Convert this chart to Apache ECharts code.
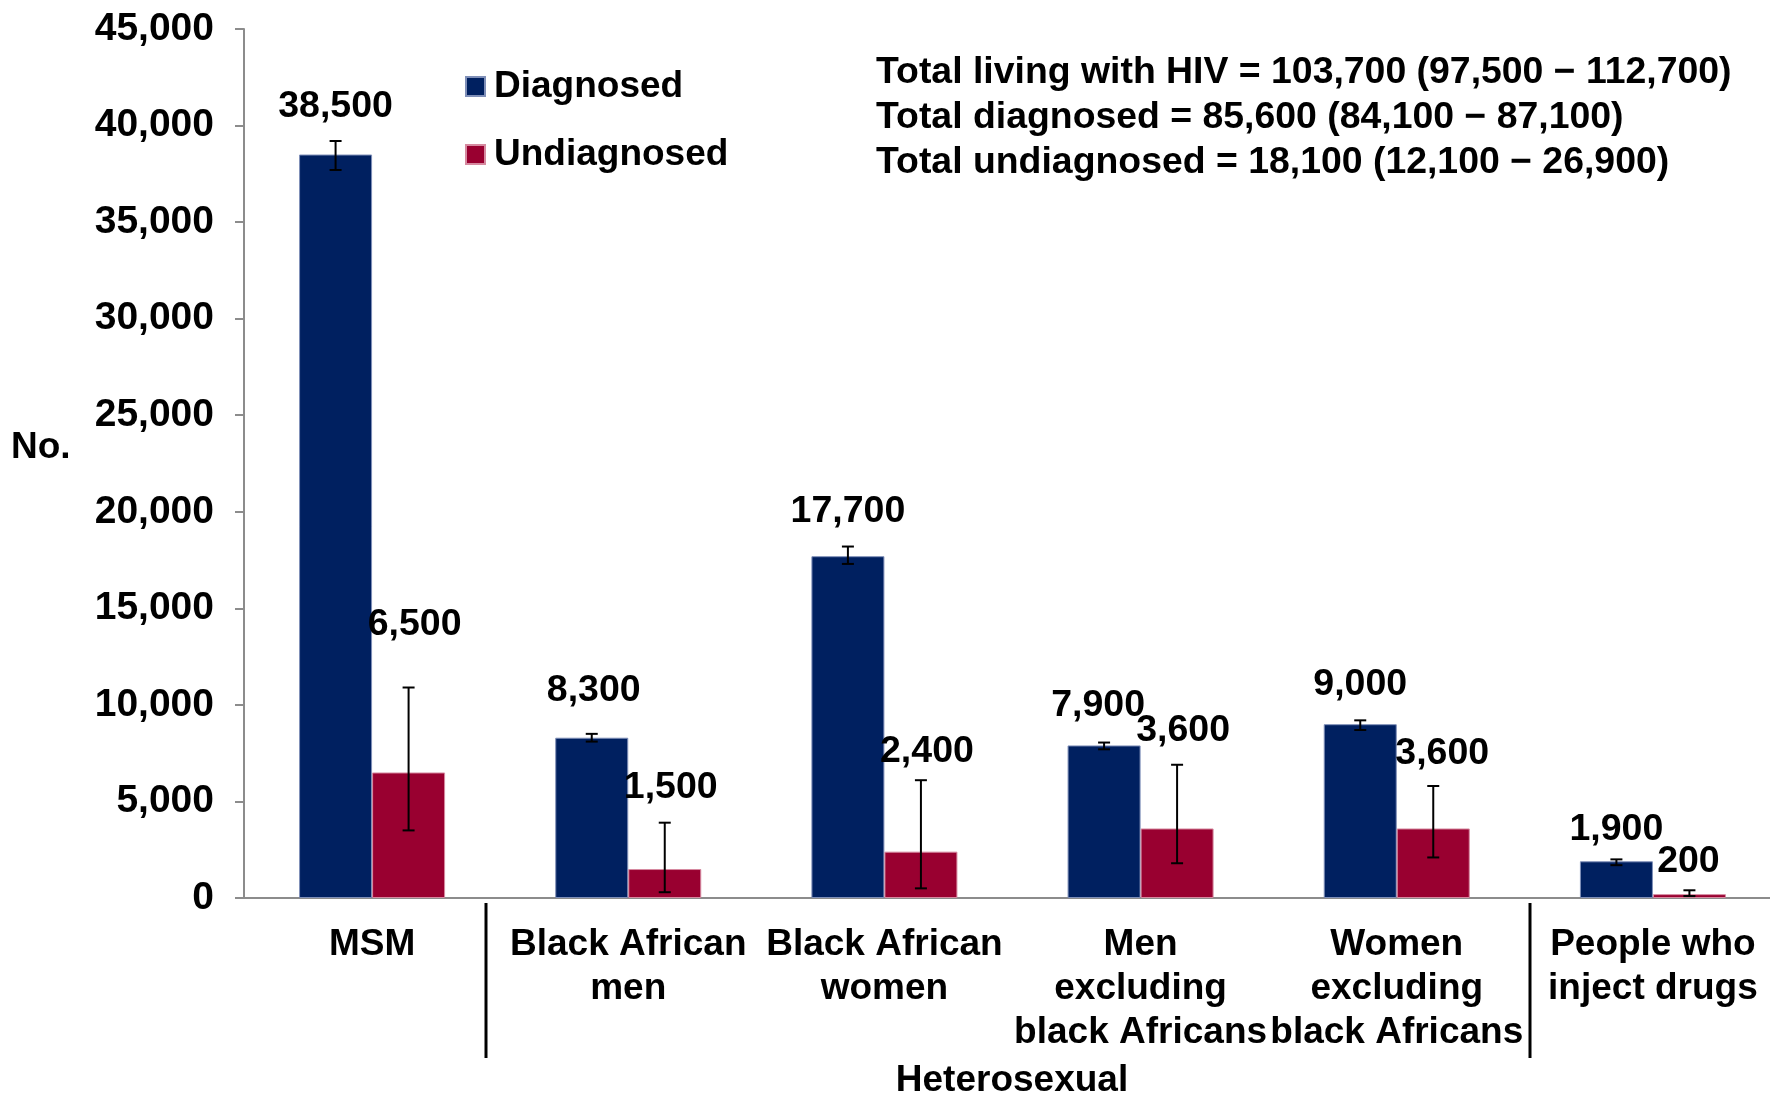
<!DOCTYPE html>
<html>
<head>
<meta charset="utf-8">
<title>People living with HIV</title>
<script src="https://cdn.jsdelivr.net/npm/echarts@6/dist/echarts.min.js"></script>
<style>
  html, body { margin: 0; padding: 0; background: #fff; }
  #chart { width: 1770px; height: 1094px; }
</style>
</head>
<body>
<div id="chart"></div>
<script>
// data
var categories = [
  'MSM',
  'Black African\nmen',
  'Black African\nwomen',
  'Men\nexcluding\nblack Africans',
  'Women\nexcluding\nblack Africans',
  'People who\ninject drugs'
];
var diagnosed = [38500, 8300, 17700, 7900, 9000, 1900];
var undiagnosed = [6500, 1500, 2400, 3600, 3600, 200];
var diagnosedLow = [37700, 8100, 17300, 7700, 8700, 1700];
var diagnosedHigh = [39200, 8500, 18200, 8050, 9200, 2000];
var undiagnosedLow = [3500, 300, 500, 1800, 2100, 100];
var undiagnosedHigh = [10900, 3900, 6100, 6900, 5800, 400];
var yTicks = [0, 45000, 5000]; // min, max, step
var totalsText = [
  'Total living with HIV = 103,700 (97,500 \u2212 112,700)',
  'Total diagnosed = 85,600 (84,100 \u2212 87,100)',
  'Total undiagnosed = 18,100 (12,100 \u2212 26,900)'
];

// label nudges [dx, dy] from the top of the error bar (layout only)
var labelShift = [
  [[0, -34], [2, -43], [0, -35], [-6, -37], [0, -36], [0, -30]],
  [[6, -63], [6, -35], [6, -29], [6, -34], [9, -32], [-1, -29]]
];

var FONT = "'Liberation Sans', Arial, sans-serif";
var GAP = 0.43;
var fmt = function (v) { return Number(v).toLocaleString('en-US'); };

var errData = [];
diagnosed.forEach(function (v, i) {
  errData.push([i, diagnosedLow[i], diagnosedHigh[i], 0, v]);
});
undiagnosed.forEach(function (v, i) {
  errData.push([i, undiagnosedLow[i], undiagnosedHigh[i], 1, v]);
});

function renderError(params, api) {
  var idx = api.value(0);
  var low = api.value(1);
  var high = api.value(2);
  var s = api.value(3);
  var val = api.value(4);
  var band = api.size([1, 0])[0];
  var barW = band * (1 - GAP) / 2;
  var cx = api.coord([idx, 0])[0] + (s === 0 ? -barW / 2 : barW / 2);
  var top = api.coord([idx, high])[1];
  var bot = api.coord([idx, low])[1];
  var cap = 6;
  var st = { stroke: '#000', lineWidth: 2 };
  var sh = labelShift[s][idx];
  return {
    type: 'group',
    children: [
      { type: 'line', shape: { x1: cx, y1: top, x2: cx, y2: bot }, style: st },
      { type: 'line', shape: { x1: cx - cap, y1: top, x2: cx + cap, y2: top }, style: st },
      { type: 'line', shape: { x1: cx - cap, y1: bot, x2: cx + cap, y2: bot }, style: st },
      {
        type: 'text',
        x: cx + sh[0],
        y: top + sh[1],
        style: {
          text: fmt(val),
          fill: '#000',
          font: 'bold 37.5px ' + FONT,
          align: 'center',
          verticalAlign: 'middle'
        }
      }
    ]
  };
}

var myChart = echarts.init(document.getElementById('chart'));

var option = {
  backgroundColor: '#fff',
  animation: false,
  color: ['#002060', '#990030'],
  grid: {
    left: 244,
    top: 29,
    width: 1537,
    height: 869,
    containLabel: false,
    outerBoundsMode: 'none'
  },
  legend: {
    orient: 'vertical',
    left: 460,
    top: 63,
    itemWidth: 19,
    itemHeight: 19,
    itemGap: 31,
    icon: 'rect',
    data: ['Diagnosed', 'Undiagnosed'],
    textStyle: {
      fontFamily: FONT,
      fontWeight: 'bold',
      fontSize: 37,
      color: '#000',
      padding: [0, 0, 0, 4]
    }
  },
  xAxis: {
    type: 'category',
    data: categories,
    axisLine: { lineStyle: { color: '#8c8c8c', width: 2 } },
    axisTick: { length: 10, lineStyle: { color: '#8c8c8c', width: 2 } },
    axisLabel: {
      interval: 0,
      margin: 25,
      fontFamily: FONT,
      fontWeight: 'bold',
      fontSize: 37,
      lineHeight: 44,
      color: '#000'
    }
  },
  yAxis: {
    type: 'value',
    min: yTicks[0],
    max: yTicks[1],
    interval: yTicks[2],
    axisLine: { show: true, lineStyle: { color: '#8c8c8c', width: 2 } },
    axisTick: { show: true, length: 9, lineStyle: { color: '#8c8c8c', width: 2 } },
    splitLine: { show: false },
    axisLabel: {
      margin: 30,
      formatter: fmt,
      fontFamily: FONT,
      fontWeight: 'bold',
      fontSize: 39,
      color: '#000'
    }
  },
  series: [
    {
      name: 'Diagnosed',
      type: 'bar',
      data: diagnosed,
      barGap: '0%',
      barCategoryGap: (GAP * 100) + '%',
      itemStyle: { borderColor: '#7f8fb8', borderWidth: 1 }
    },
    {
      name: 'Undiagnosed',
      type: 'bar',
      data: undiagnosed,
      barGap: '0%',
      barCategoryGap: (GAP * 100) + '%',
      itemStyle: { borderColor: '#d68aa0', borderWidth: 1 }
    },
    {
      name: 'range',
      type: 'custom',
      renderItem: renderError,
      data: errData,
      encode: { x: 0, y: [1, 2] },
      z: 10,
      silent: true
    }
  ],
  graphic: [
    {
      type: 'text',
      left: 876,
      top: 50,
      style: {
        text: totalsText.join('\n'),
        font: 'bold 37.4px ' + FONT,
        lineHeight: 45,
        fill: '#000'
      }
    },
    {
      type: 'text',
      left: 11,
      top: 429,
      style: { text: 'No.', font: 'bold 37px ' + FONT, fill: '#000' }
    },
    {
      type: 'text',
      x: 1012,
      y: 1081,
      style: {
        text: 'Heterosexual',
        font: 'bold 37px ' + FONT,
        fill: '#000',
        align: 'center',
        verticalAlign: 'middle'
      }
    },
    {
      type: 'line',
      shape: { x1: 486, y1: 903, x2: 486, y2: 1058 },
      style: { stroke: '#000', lineWidth: 3 }
    },
    {
      type: 'line',
      shape: { x1: 1530, y1: 903, x2: 1530, y2: 1058 },
      style: { stroke: '#000', lineWidth: 3 }
    }
  ]
};

option && myChart.setOption(option);
</script>
</body>
</html>
